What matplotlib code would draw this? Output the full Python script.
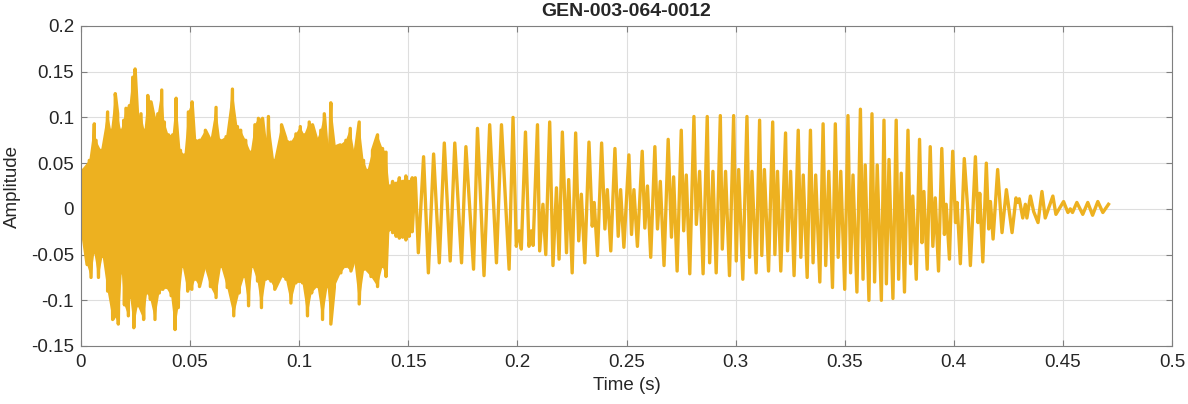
import numpy as np
import matplotlib.pyplot as plt

plt.rcParams['font.family'] = ['Liberation Sans', 'DejaVu Sans']

# noisy burst (0 - 0.15 s): upper and lower spikes
burst_top_t = [0.0000, 0.0038, 0.0061, 0.0069, 0.0092, 0.0122, 0.0138, 0.0157, 0.0168, 0.0183,
               0.0196, 0.0206, 0.0222, 0.0237, 0.0248, 0.0260, 0.0275, 0.0291, 0.0306, 0.0321,
               0.0336, 0.0352, 0.0370, 0.0382, 0.0401, 0.0420, 0.0436, 0.0456, 0.0474, 0.0492,
               0.0509, 0.0520, 0.0543, 0.0570, 0.0593, 0.0619, 0.0638, 0.0665, 0.0694, 0.0717,
               0.0732, 0.0755, 0.0778, 0.0797, 0.0813, 0.0832, 0.0847, 0.0859, 0.0885, 0.0919,
               0.0939, 0.0962, 0.0985, 0.1005, 0.1023, 0.1046, 0.1061, 0.1081, 0.1099, 0.1115,
               0.1130, 0.1145, 0.1168, 0.1188, 0.1214, 0.1234, 0.1255, 0.1275, 0.1295, 0.1313,
               0.1336, 0.1359, 0.1382, 0.1398, 0.1413, 0.1428, 0.1444, 0.1459, 0.1474, 0.1489,
               0.1504, 0.1518]
burst_top_v = [0.042, 0.053, 0.093, 0.075, 0.064, 0.106, 0.086, 0.126, 0.104, 0.086,
               0.097, 0.110, 0.113, 0.144, 0.153, 0.099, 0.104, 0.086, 0.124, 0.117,
               0.099, 0.104, 0.130, 0.095, 0.081, 0.081, 0.121, 0.064, 0.059, 0.106,
               0.117, 0.077, 0.075, 0.086, 0.075, 0.111, 0.075, 0.079, 0.131, 0.090,
               0.086, 0.075, 0.062, 0.092, 0.099, 0.099, 0.066, 0.101, 0.053, 0.092,
               0.077, 0.073, 0.082, 0.090, 0.081, 0.095, 0.092, 0.075, 0.086, 0.104,
               0.059, 0.116, 0.068, 0.070, 0.075, 0.088, 0.059, 0.095, 0.053, 0.042,
               0.064, 0.081, 0.066, 0.062, 0.025, 0.030, 0.028, 0.034, 0.030, 0.036,
               0.030, 0.034]
burst_bot_t = [0.0008, 0.0028, 0.0046, 0.0061, 0.0080, 0.0099, 0.0122, 0.0145, 0.0156, 0.0171,
               0.0187, 0.0199, 0.0217, 0.0226, 0.0242, 0.0260, 0.0287, 0.0303, 0.0318, 0.0339,
               0.0359, 0.0375, 0.0390, 0.0413, 0.0431, 0.0446, 0.0466, 0.0489, 0.0508, 0.0523,
               0.0543, 0.0566, 0.0593, 0.0619, 0.0642, 0.0670, 0.0700, 0.0725, 0.0748, 0.0768,
               0.0786, 0.0809, 0.0827, 0.0847, 0.0870, 0.0888, 0.0916, 0.0939, 0.0962, 0.0985,
               0.1015, 0.1038, 0.1057, 0.1084, 0.1107, 0.1130, 0.1145, 0.1161, 0.1191, 0.1214,
               0.1237, 0.1252, 0.1275, 0.1298, 0.1329, 0.1359, 0.1382, 0.1398, 0.1413, 0.1428,
               0.1444, 0.1459, 0.1474, 0.1489, 0.1504, 0.1518]
burst_bot_v = [-0.026, -0.061, -0.075, -0.048, -0.075, -0.052, -0.090, -0.121, -0.117, -0.126,
               -0.070, -0.105, -0.117, -0.097, -0.130, -0.106, -0.121, -0.092, -0.099, -0.121,
               -0.092, -0.088, -0.086, -0.095, -0.132, -0.108, -0.063, -0.090, -0.088, -0.077,
               -0.085, -0.063, -0.085, -0.097, -0.063, -0.086, -0.117, -0.092, -0.074, -0.106,
               -0.063, -0.079, -0.108, -0.077, -0.079, -0.088, -0.074, -0.077, -0.103, -0.081,
               -0.081, -0.117, -0.092, -0.085, -0.121, -0.085, -0.126, -0.086, -0.070, -0.063,
               -0.068, -0.056, -0.104, -0.066, -0.074, -0.085, -0.063, -0.074, -0.023, -0.026,
               -0.030, -0.032, -0.031, -0.034, -0.030, -0.025]

# voiced part (0.15 - 0.47 s): turning points
tone_t = [0.1532, 0.1546, 0.1570, 0.1592, 0.1616, 0.1642, 0.1665, 0.1692, 0.1713, 0.1744,
          0.1764, 0.1799, 0.1817, 0.1847, 0.1873, 0.1904, 0.1927, 0.1962, 0.1980, 0.1995,
          0.2008, 0.2018, 0.2037, 0.2053, 0.2064, 0.2072, 0.2092, 0.2102, 0.2117, 0.2130,
          0.2148, 0.2163, 0.2179, 0.2191, 0.2206, 0.2225, 0.2235, 0.2251, 0.2267, 0.2281,
          0.2293, 0.2309, 0.2328, 0.2343, 0.2352, 0.2367, 0.2386, 0.2401,
          0.2412, 0.2428, 0.2447, 0.2462, 0.2473, 0.2488, 0.2511, 0.2523, 0.2534, 0.2550,
          0.2572, 0.2584, 0.2596, 0.2611, 0.2630, 0.2642, 0.2655, 0.2672, 0.2691, 0.2706,
          0.2716, 0.2732, 0.2751, 0.2762, 0.2774, 0.2790, 0.2809, 0.2820, 0.2835, 0.2851,
          0.2870, 0.2881, 0.2896, 0.2911, 0.2930, 0.2939, 0.2954, 0.2972, 0.2991, 0.3003,
          0.3014, 0.3033, 0.3052, 0.3064, 0.3075, 0.3094, 0.3110, 0.3120, 0.3132, 0.3151,
          0.3170, 0.3180, 0.3192, 0.3207, 0.3229, 0.3238, 0.3252, 0.3268, 0.3287, 0.3299,
          0.3310, 0.3328, 0.3343, 0.3355, 0.3367, 0.3386, 0.3401, 0.3413, 0.3427, 0.3444,
          0.3457, 0.3470, 0.3482, 0.3500, 0.3515, 0.3527, 0.3538, 0.3556, 0.3572, 0.3584,
          0.3594, 0.3611, 0.3625, 0.3637, 0.3649, 0.3668, 0.3680, 0.3691, 0.3703, 0.3721,
          0.3736, 0.3747, 0.3759, 0.3774, 0.3790, 0.3802, 0.3812, 0.3828, 0.3843, 0.3854,
          0.3863, 0.3878, 0.3892, 0.3904, 0.3915, 0.3930, 0.3945, 0.3957, 0.3965, 0.3980,
          0.3995, 0.4008, 0.4015, 0.4030, 0.4048, 0.4066, 0.4076, 0.4099, 0.4111, 0.4119,
          0.4133, 0.4149, 0.4160, 0.4168, 0.4180, 0.4201, 0.4221, 0.4241, 0.4267, 0.4285,
          0.4291, 0.4300, 0.4316, 0.4328, 0.4335, 0.4351, 0.4366, 0.4386, 0.4404, 0.4419,
          0.4454, 0.4468, 0.4503, 0.4523, 0.4534, 0.4544, 0.4564, 0.4591, 0.4614, 0.4636,
          0.4660, 0.4683, 0.4709]
tone_v = [0.034, -0.048, 0.057, -0.070, 0.060, -0.059, 0.072, -0.057, 0.072, -0.059,
          0.068, -0.066, 0.088, -0.073, 0.092, -0.059, 0.092, -0.066, 0.100, -0.041,
          -0.024, -0.044, 0.084, -0.041, -0.024, -0.040, 0.092, -0.046, 0.005, -0.050,
          0.095, -0.062, 0.023, -0.055, 0.084, -0.048, 0.032, -0.070, 0.083, -0.035,
          0.016, -0.059, 0.073, -0.019, 0.007, -0.051, 0.072, -0.022,
          0.021, -0.046, 0.066, -0.030, 0.021, -0.042, 0.059, -0.028, 0.021, -0.041,
          0.063, -0.021, 0.025, -0.053, 0.068, -0.022, 0.030, -0.062, 0.076, -0.031,
          0.035, -0.068, 0.086, -0.024, 0.037, -0.071, 0.101, -0.017, 0.041, -0.071,
          0.101, -0.059, 0.041, -0.070, 0.102, -0.044, 0.041, -0.073, 0.102, -0.057,
          0.043, -0.077, 0.101, -0.053, 0.041, -0.070, 0.097, -0.051, 0.043, -0.068,
          0.095, -0.050, 0.041, -0.068, 0.083, -0.046, 0.041, -0.073, 0.086, -0.053,
          0.037, -0.075, 0.086, -0.059, 0.037, -0.080, 0.093, -0.062, 0.041, -0.086,
          0.093, -0.053, 0.041, -0.088, 0.102, -0.070, 0.037, -0.091, 0.109, -0.077,
          0.048, -0.100, 0.104, -0.080, 0.048, -0.100, 0.097, -0.082, 0.054, -0.098,
          0.097, -0.077, 0.039, -0.091, 0.086, -0.060, 0.014, -0.077, 0.076, -0.037,
          0.019, -0.066, 0.068, -0.041, 0.012, -0.068, 0.066, -0.028, 0.005, -0.055,
          0.063, -0.015, 0.007, -0.060, 0.055, -0.008, -0.062, 0.057, -0.015, 0.017,
          -0.058, 0.050, -0.022, 0.008, -0.033, 0.043, -0.026, 0.021, -0.026, 0.012,
          0.007, 0.011, -0.010, 0.005, -0.010, 0.014, -0.003, -0.015, 0.019, -0.010,
          0.014, -0.006, 0.008, -0.004, 0.000, -0.004, 0.007, -0.006, 0.007, -0.007,
          0.008, -0.004, 0.005]

x_ticks = [0, 0.05, 0.1, 0.15, 0.2, 0.25, 0.3, 0.35, 0.4, 0.45, 0.5]
y_ticks = [-0.15, -0.1, -0.05, 0, 0.05, 0.1, 0.15, 0.2]

line_color = '#EDB120'
text_color = '#262626'

# merge burst spikes into one time-ordered trace
bt = np.array(burst_top_t + burst_bot_t)
bv = np.array(burst_top_v + burst_bot_v)
order = np.argsort(bt, kind='stable')
t = np.concatenate([bt[order], tone_t])
v = np.concatenate([bv[order], tone_v])

fig = plt.figure(figsize=(11.88, 4.04), dpi=100)
ax = fig.add_axes([81 / 1188, 58 / 404, 1091 / 1188, 320 / 404])

# the burst is so dense it reads as a solid band between the spikes
ax.fill(burst_top_t + burst_bot_t[::-1], burst_top_v + burst_bot_v[::-1],
        color=line_color, linewidth=0)
ax.plot(t, v, color=line_color, linewidth=2.4)

ax.set_xlim(0, 0.5)
ax.set_ylim(-0.15, 0.2)
ax.set_xticks(x_ticks)
ax.set_xticklabels(['%g' % x for x in x_ticks])
ax.set_yticks(y_ticks)
ax.set_yticklabels(['%g' % y for y in y_ticks])
ax.grid(True, color='#dedede', linewidth=0.8)
ax.set_axisbelow(True)
for s in ax.spines.values():
    s.set_color('#7f7f7f')
    s.set_linewidth(0.8)
ax.tick_params(direction='in', length=4, width=0.8, color='#7f7f7f',
               labelsize=13.5, labelcolor=text_color, top=True, right=True)
ax.tick_params(axis='x', pad=6)
ax.tick_params(axis='y', pad=5)
ax.set_xlabel('Time (s)', fontsize=13.5, color=text_color, labelpad=4)
ax.set_ylabel('Amplitude', fontsize=13.5, color=text_color, labelpad=7)
ax.set_title('GEN-003-064-0012', fontsize=14, fontweight='bold', color=text_color, pad=7)

fig.savefig('out.png', dpi=100)
